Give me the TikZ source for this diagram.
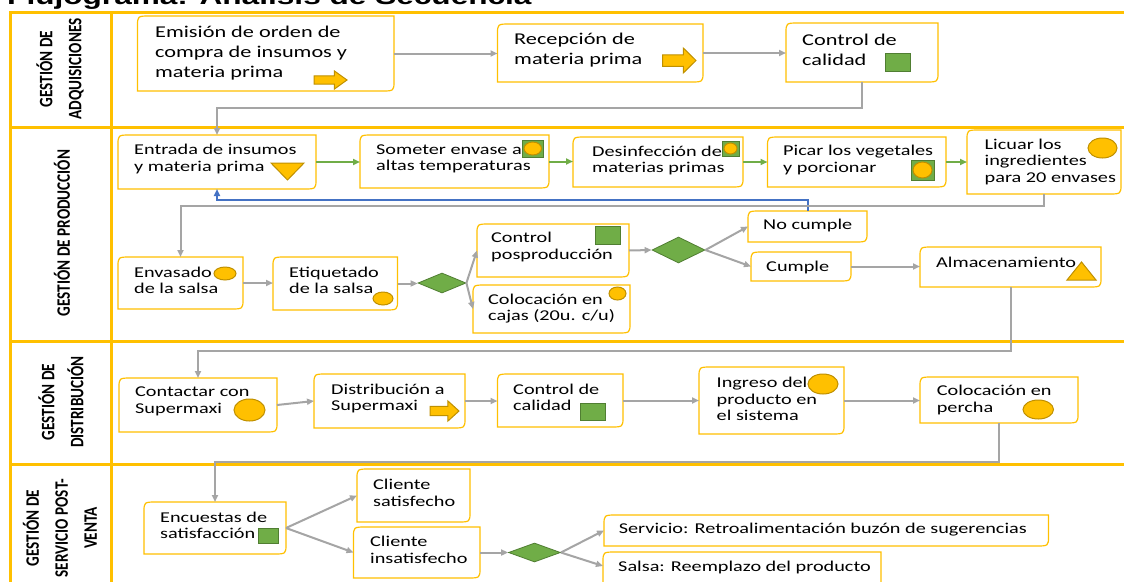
\documentclass[tikz,border=0pt]{standalone}
\usepackage{fontspec}
\usetikzlibrary{arrows.meta,shapes.geometric,calc}
\newfontfamily\boxfont[FakeStretch=1.35]{Carlito}
\newfontfamily\lanefont[FakeStretch=0.8]{Carlito}
\newfontfamily\titlefont[FakeStretch=1.35]{Liberation Sans}
\definecolor{lanec}{HTML}{FFC000}
\definecolor{boxc}{HTML}{FFC000}
\definecolor{cgray}{HTML}{A5A5A5}
\definecolor{cgreen}{HTML}{70AD47}
\definecolor{cgreend}{HTML}{507E32}
\definecolor{cblue}{HTML}{4472C4}
\definecolor{cyel}{HTML}{FFC000}
\definecolor{cyeld}{HTML}{BF9000}
\newcommand\drawdbox[1]{\draw[boxline] (#1.south west) -- ([yshift=-10pt]#1.north west) .. controls (#1.north west) .. ([xshift=13pt]#1.north west) -- (#1.north east) -- ([yshift=10pt]#1.south east) .. controls (#1.south east) .. ([xshift=-13pt]#1.south east) -- cycle;}
\newcommand\mkbox[8]{%
  \pgfmathsetmacro\mkbw{#4-#2}\pgfmathsetmacro\mkbh{#5-#3}%
  \node[boxn, minimum width=\mkbw pt, minimum height=\mkbh pt] (#1) at ({(#2+#4)/2},{(#3+#5)/2}) {};%
  \drawdbox{#1}%
  \node[boxtext, anchor=west] (#1-t) at (#6,#7) {#8};}
\newcommand\yell[5]{%
  \pgfmathsetmacro\mkbw{#4-#2}\pgfmathsetmacro\mkbh{#5-#3}%
  \node[yelshape, minimum width=\mkbw pt, minimum height=\mkbh pt] (#1) at ({(#2+#4)/2},{(#3+#5)/2}) {};}
\newcommand\gsq[5]{%
  \pgfmathsetmacro\mkbw{#4-#2}\pgfmathsetmacro\mkbh{#5-#3}%
  \node[sqshape, minimum width=\mkbw pt, minimum height=\mkbh pt] (#1) at ({(#2+#4)/2},{(#3+#5)/2}) {};}
\newcommand\sqcirc[5]{%
  \gsq{#1}{#2}{#3}{#4}{#5}%
  \pgfmathsetmacro\mkbw{#4-#2-4}\pgfmathsetmacro\mkbh{#5-#3-4}%
  \node[yelshape, minimum width=\mkbw pt, minimum height=\mkbh pt] (#1-c) at (#1.center) {};}
\newcommand\barrow[4]{%
  \pgfmathsetmacro\mkxm{#1+0.62*(#3-#1)}\pgfmathsetmacro\mkyc{(#2+#4)/2}%
  \pgfmathsetmacro\mkbt{#2+0.27*(#4-#2)}\pgfmathsetmacro\mkbb{#4-0.27*(#4-#2)}%
  \filldraw[iconline] (#1,\mkbt) -- (\mkxm,\mkbt) -- (\mkxm,#2) -- (#3,\mkyc) -- (\mkxm,#4) -- (\mkxm,\mkbb) -- (#1,\mkbb) -- cycle;}
\begin{document}
\begin{tikzpicture}[x=1pt,y=-1pt,
  laneline/.style={draw=lanec, line width=3pt},
  boxn/.style={inner sep=0pt, outer sep=0pt},
  boxline/.style={draw=boxc, line width=1.2pt},
  boxtext/.style={inner sep=0pt, align=left, font=\boxfont\fontsize{15}{16.5}\selectfont},
  lanelab/.style={rotate=90, align=center, inner sep=0pt, font=\lanefont\bfseries\fontsize{19}{29}\selectfont},
  yelshape/.style={ellipse, draw=cyeld, fill=cyel, line width=1pt, inner sep=0pt},
  sqshape/.style={rectangle, draw=cgreend, fill=cgreen, line width=1pt, inner sep=0pt},
  iconline/.style={draw=cyeld, fill=cyel, line width=1pt},
  dia/.style={diamond, draw=cgreend, fill=cgreen, line width=0.8pt, inner sep=0pt},
  tip/.style={-{Triangle[length=7pt,width=6pt]}},
  ga/.style={draw=cgray, line width=2pt, tip},
  gra/.style={draw=cgreen, line width=2pt, tip},
  ba/.style={draw=cblue, line width=2pt, tip}]
\useasboundingbox (0,0) rectangle (1124,581);
\fill[white] (0,0) rectangle (1124,581);
% title
\node[anchor=base west, inner sep=0pt, font=\titlefont\bfseries\fontsize{23.4}{26}\selectfont] (title) at (7,4.5) {Flujograma: Análisis de Secuencia};
% lanes
\draw[laneline] (10,590) -- (10,12) -- (1130,12);
\draw[laneline] (111,12) -- (111,590);
\draw[laneline] (10,127.5) -- (1130,127.5);
\draw[laneline] (10,341) -- (1130,341);
\draw[laneline] (10,464.5) -- (1130,464.5);
\node[lanelab] (l1) at (60,69) {GESTIÓN DE\\ADQUISICIONES};
\node[lanelab] (l2) at (62,233) {GESTIÓN DE PRODUCCIÓN};
\node[lanelab] (l3) at (61,402) {GESTIÓN DE\\DISTRIBUCIÓN};
\node[lanelab] (l4) at (60,528) {GESTIÓN DE\\SERVICIO POST-\\VENTA};
% lane 1
\begin{scope}[boxtext/.append style={font=\boxfont\fontsize{16.5}{20}\selectfont}]
\mkbox{emi}{137.5}{16}{394}{91}{155}{53}{Emisión de orden de\\compra de insumos y\\materia prima}
\mkbox{rec}{497.5}{24}{703}{82}{514}{50.5}{Recepción de\\materia prima}
\mkbox{cal1}{786}{23}{938}{82}{802}{50}{Control de\\calidad}
\end{scope}
% lane 2
\mkbox{ent}{118}{135}{316}{189}{134}{159}{Entrada de insumos\\y materia prima}
\mkbox{som}{360}{135}{549}{188}{376}{159}{Someter envase a\\altas temperaturas}
\mkbox{des}{573}{137}{743}{187}{592}{160.5}{Desinfección de\\materias primas}
\mkbox{pic}{767.5}{137}{946}{187}{783}{160}{Picar los vegetales\\y porcionar}
\mkbox{lic}{967}{130}{1121}{194}{984.5}{161.5}{Licuar los\\ingredientes\\para 20 envases}
\mkbox{env}{118}{257}{243}{309}{134}{280.5}{Envasado\\de la salsa}
\mkbox{eti}{273}{257}{397.5}{310}{289}{280.5}{Etiquetado\\de la salsa}
\mkbox{cpp}{477}{224}{629}{277}{491}{247}{Control\\posproducción}
\mkbox{caj}{473}{285}{630}{333}{488}{308.5}{Colocación en\\cajas (20u. c/u)}
\mkbox{noc}{748}{211}{867}{242}{763}{225}{No cumple}
\mkbox{cum}{751}{252}{851}{281}{766}{267}{Cumple}
\mkbox{alm}{920}{247}{1101}{287}{936}{262}{Almacenamiento}
% lane 3
\mkbox{con}{119}{378}{277}{432}{135}{401.5}{Contactar con\\Supermaxi}
\mkbox{dis}{314}{374}{465}{428}{331}{398.5}{Distribución a\\Supermaxi}
\mkbox{cc3}{497.5}{374}{623}{427}{513}{397.5}{Control de\\calidad}
\mkbox{ing}{699}{367}{844}{434}{716.5}{399}{Ingreso del\\producto en\\el sistema}
\mkbox{per}{920}{377}{1078}{423}{936.6}{400}{Colocación en\\percha}
% lane 4
\mkbox{enc}{144}{502}{286}{554}{160}{525.5}{Encuestas de\\satisfacción}
\mkbox{sat}{357}{469}{470}{522}{373}{493}{Cliente\\satisfecho}
\mkbox{ins}{353.5}{527}{480}{578}{370}{550}{Cliente\\insatisfecho}
\mkbox{ser}{604}{515}{1048.5}{546}{618.6}{530}{Servicio: Retroalimentación buzón de sugerencias}
\mkbox{sal}{603}{552}{881}{600}{618}{567}{Salsa: Reemplazo del producto}
% diamonds
\node[dia, minimum width=48pt, minimum height=20pt] (d1) at (442,283) {};
\node[dia, minimum width=53pt, minimum height=26pt] (d2) at (678.5,250) {};
\node[dia, minimum width=52pt, minimum height=19pt] (d3) at (534.5,552.5) {};
% icons
\barrow{314}{71}{347}{89}
\barrow{662.5}{48}{696}{73}
\barrow{430}{401}{459}{421}
\gsq{cal1-i}{885.5}{53}{910}{71}
\gsq{cpp-i}{595}{226}{620}{244}
\gsq{cc3-i}{580.5}{403}{605}{420}
\gsq{enc-i}{258}{528}{278}{543}
\sqcirc{som-i}{522}{140}{543.5}{157}
\sqcirc{des-i}{722}{141}{739}{156}
\sqcirc{pic-i}{911}{160}{934}{180}
\yell{lic-i}{1088}{138}{1117}{158}
\yell{env-i}{214}{267}{236}{280}
\yell{eti-i}{373}{292}{393}{305}
\yell{caj-i}{609}{287}{626}{300}
\yell{con-i}{234}{399}{265}{421}
\yell{ing-i}{808}{374}{838}{394}
\yell{per-i}{1023}{400}{1053.5}{419}
\filldraw[iconline] (271,163) -- (304,163) -- (287.5,180) -- cycle;
\filldraw[iconline] (1067,280) -- (1096,280) -- (1081.5,262) -- cycle;
% connector bends
\coordinate (k1) at (0,108);
\coordinate (k2) at (0,200);
\coordinate (k3) at (0,205.5);
\coordinate (k4) at (0,350.5);
\coordinate (k5) at (0,461.5);
% connectors lane 1
\draw[ga] (emi.east) -- (emi.east -| rec.west);
\draw[ga] (rec.east) -- (rec.east -| cal1.west);
\draw[ga] (cal1.south) -- (cal1.south |- k1) -| (ent.north);
% lane 2
\draw[gra] (ent.east) -- (ent.east -| som.west);
\draw[gra] (som.east) -- (som.east -| des.west);
\draw[gra] (des.east) -- (des.east -| pic.west);
\draw[gra] (pic.east) -- (pic.east -| lic.west);
\draw[ba] (noc.north) -- (noc.north |- k2) -| (ent.south);
\draw[ga] (lic.south) -- (lic.south |- k3) -| (env.north);
\draw[ga] (env.east) -- (env.east -| eti.west);
\draw[ga] (eti.east) -- (eti.east -| d1.west);
\draw[ga] (d1.east) -- (cpp.west);
\draw[ga] (d1.east) -- (caj.west);
\draw[ga] (cpp.east) -- (d2.west);
\draw[ga] (d2.east) -- (noc.west);
\draw[ga] (d2.east) -- (cum.west);
\draw[ga] (cum.east) -- (cum.east -| alm.west);
\draw[ga] (alm.south) -- (alm.south |- k4) -| (con.north);
% lane 3
\draw[ga] (con.east) -- (dis.west);
\draw[ga] (dis.east) -- (dis.east -| cc3.west);
\draw[ga] (cc3.east) -- (cc3.east -| ing.west);
\draw[ga] (ing.east) -- (ing.east -| per.west);
\draw[ga] (per.south) -- (per.south |- k5) -| (enc.north);
% lane 4
\draw[ga] (enc.east) -- (sat.west);
\draw[ga] (enc.east) -- (ins.west);
\draw[ga] (ins.east) -- (d3.west);
\draw[ga] (d3.east) -- (ser.west);
\draw[ga] (d3.east) -- (sal.west |- 0,566);
\end{tikzpicture}
\end{document}
